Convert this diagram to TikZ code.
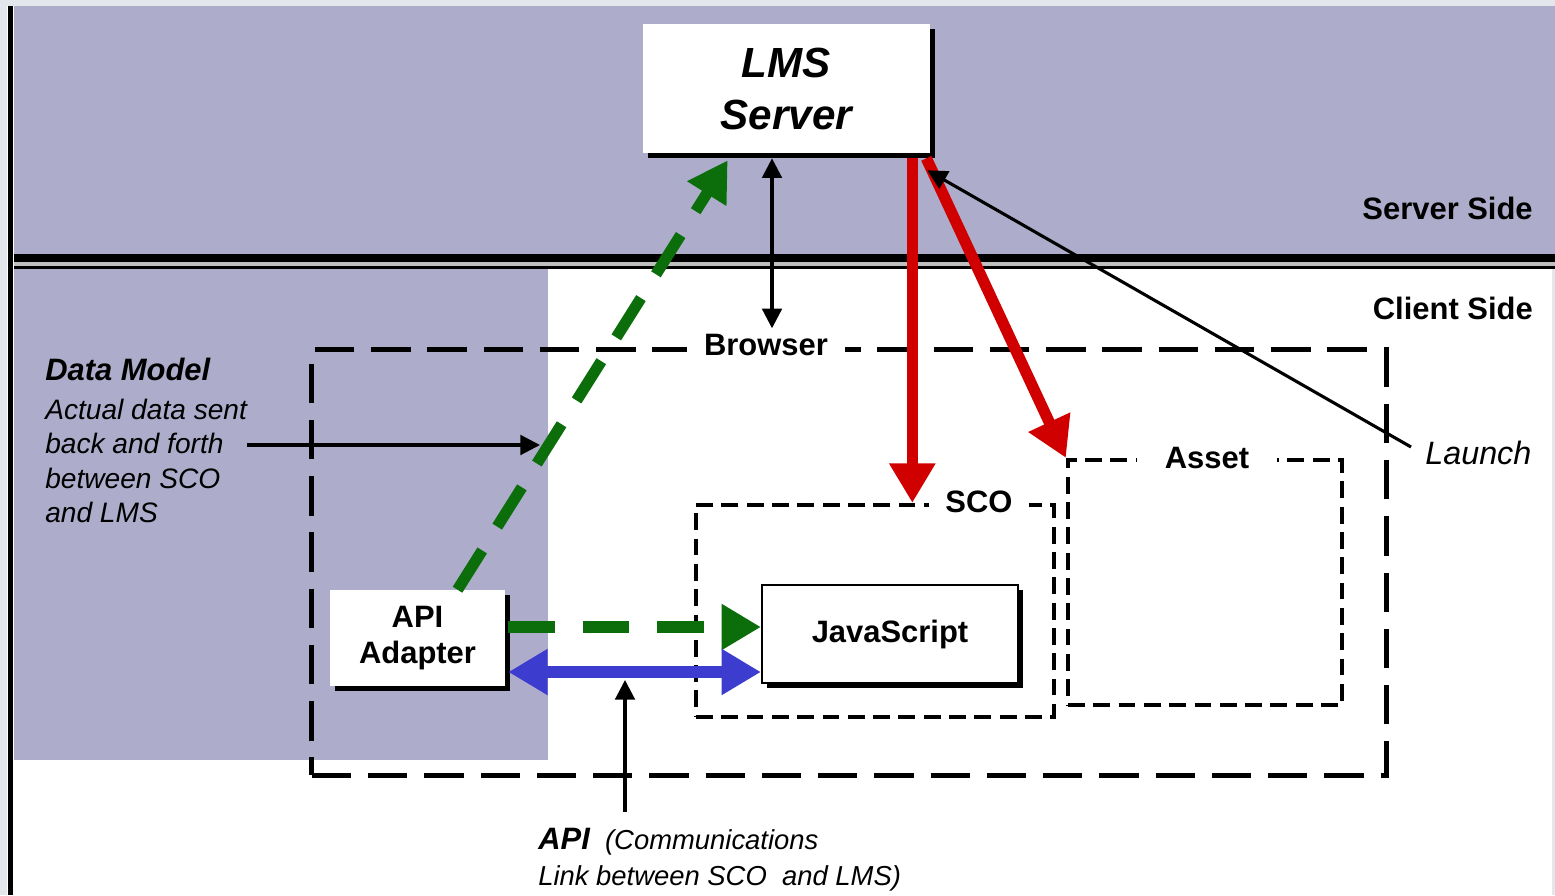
\documentclass[tikz,border=0pt]{standalone}
\usepackage{fontspec}
\setmainfont{Liberation Sans}
\setsansfont{Liberation Sans}
\usetikzlibrary{arrows.meta, positioning, calc, shadows}
\definecolor{clav}{HTML}{ADADCB}
\definecolor{cgreen}{HTML}{0B6E0B}
\definecolor{cred}{HTML}{D00000}
\definecolor{cblue}{HTML}{3C3CCF}
\definecolor{cedge}{HTML}{E3E7EB}
\tikzset{
  every picture/.style={font=\sffamily},
  lbl/.style={font=\fontsize{22}{26}\selectfont\bfseries, text=black},
  note/.style={font=\fontsize{20}{24.5}\selectfont\itshape, align=left, inner sep=0pt},
  box/.style={fill=white, align=center, inner sep=0pt,
    drop shadow={shadow xshift=3.6pt, shadow yshift=-3.6pt, fill=black, opacity=1}},
  frame/.style={draw, line width=3.6pt, dash pattern=on 28pt off 12pt},
  smallframe/.style={draw, line width=3pt, dash pattern=on 12pt off 6pt},
  gap/.style={lbl, fill=white, inner xsep=12pt, inner ysep=4pt},
  thinarrow/.style={>={Triangle[length=14pt, width=14pt]}, ->, line width=2.2pt},
  fatarrow/.style={>={Triangle[length=28pt, width=31pt]}, ->, line width=8pt, draw=#1},
  greendash/.style={fatarrow=cgreen, dash pattern=on 33pt off 20pt},
}
\begin{document}
\begin{tikzpicture}[x=0.025cm, y=-0.025cm]
  \useasboundingbox (0,0) rectangle (1555,895);
  % background bands
  \fill[white] (0,0) rectangle (1555,895);
  \fill[cedge] (0,0) rectangle (1555,6);
  \fill[cedge] (0,0) rectangle (7,895);
  \fill[cedge] (1552,269) rectangle (1555,895);
  \fill[clav] (14,6) rectangle (1555,254);
  \fill[clav] (14,269) rectangle (548,760);
  \fill[black] (8,6) rectangle (13,895);
  \fill[black] (14,254) rectangle (1555,262);
  \fill[black!25] (14,262) rectangle (1555,266);
  \fill[black] (14,266) rectangle (1555,269);
  % side labels
  \node[lbl, anchor=east, inner sep=0pt] (serverlbl) at (1533,208) {Server Side};
  \node[lbl, anchor=east, inner sep=0pt] (clientlbl) at (1533,308) {Client Side};
  % dashed frames
  \node[frame, minimum width=26.85cm, minimum height=10.625cm] (browser) at (849,562.5) {};
  \node[smallframe, minimum width=8.95cm, minimum height=5.3cm] (sco) at (875,611) {};
  \node[smallframe, minimum width=6.85cm, minimum height=6.125cm] (asset) at (1205,582.5) {};
  \node[gap] (browserlbl) at (766,345) {Browser};
  \node[gap] (scolbl) at (979,502) {SCO};
  \node[gap, inner xsep=20pt] (assetlbl) at (1207,458) {Asset};
  % boxes
  \node[box, minimum width=7.175cm, minimum height=3.225cm,
        font=\fontsize{30}{37}\selectfont\bfseries\itshape] (lms) at (786.5,88.5) {LMS\\Server};
  \node[box, lbl, minimum width=4.375cm, minimum height=2.4cm] (api) at (417.5,638) {API\\Adapter};
  \node[box, lbl, draw, line width=1.5pt, minimum width=6.4cm, minimum height=2.45cm] (js) at (890,634) {JavaScript};
  % notes
  \node[note, anchor=north west] (dm) at (45,358)
    {{\fontsize{22}{26}\selectfont\bfseries Data Model}\\[3pt]Actual data sent\\back and forth\\between SCO\\and LMS};
  \node[note, anchor=north west, font=\fontsize{19.5}{25.5}\selectfont\itshape] (apinote) at (538,828)
    {{\fontsize{22}{26}\selectfont\bfseries API}\ \ (Communications\\Link between SCO\ \ and LMS)};
  \node[font=\fontsize{23}{27}\selectfont\itshape, anchor=west, inner sep=0pt] (launch) at (1425,453) {Launch};
  % connectors
  \coordinate (r1) at ($(lms.south east)+(-18,5)$);
  \coordinate (r2) at ($(lms.south east)+(-4,5)$);
  \draw[fatarrow=cred] (r1) -- (r1 |- sco.north);
  \draw[fatarrow=cred] (r2) -- (asset.north west);
  \draw[greendash] ($(api.north)+(40,0)$) -- ($(lms.south west)+(85,7)$);
  \coordinate (gh) at ($(api.east)+(3,-11)$);
  \draw[greendash] (gh) -- (gh -| js.west);
  \coordinate (bl) at ($(api.east)+(3,34)$);
  \draw[fatarrow=cblue, <->] (bl) -- (bl -| js.west);
  \coordinate (l1) at ($(lms.south)+(-14.5,5)$);
  \draw[thinarrow, <->] (l1) -- (l1 |- browserlbl.north);
  \draw[thinarrow] ($(launch.west)+(-14,-6)$) -- ($(lms.south east)+(-3,17)$);
  \coordinate (dmtip) at (540,445);
  \draw[thinarrow] (dm.east |- dmtip) -- (dmtip);
  \coordinate (apitip) at (625,680);
  \draw[thinarrow] ($(apitip |- apinote.north)+(0,-16)$) -- (apitip);
\end{tikzpicture}
\end{document}
